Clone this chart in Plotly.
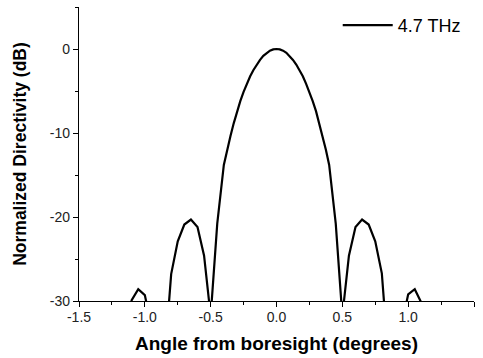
import plotly.graph_objects as go

# Angle from boresight (degrees)
angles = [-1.50, -1.45, -1.40, -1.35, -1.30, -1.25, -1.20, -1.15, -1.10, -1.05,
          -1.00, -0.95, -0.90, -0.85, -0.80, -0.75, -0.70, -0.65, -0.60, -0.55,
          -0.50, -0.45, -0.40, -0.375, -0.35, -0.325, -0.30, -0.275, -0.25, -0.225,
          -0.20, -0.175, -0.15, -0.125, -0.10, -0.075, -0.05, -0.025,
          0.00, 0.025, 0.05, 0.075, 0.10, 0.125, 0.15, 0.175, 0.20, 0.225,
          0.25, 0.275, 0.30, 0.325, 0.35, 0.375, 0.40, 0.45,
          0.50, 0.55, 0.60, 0.65, 0.70, 0.75, 0.80, 0.85, 0.90, 0.95,
          1.00, 1.05, 1.10, 1.15, 1.20, 1.25, 1.30, 1.35, 1.40, 1.45, 1.50]

# Normalized directivity (dB) at 4.7 THz
directivity = [-36.0, -35.0, -34.5, -35.0, -36.5, -38.0, -37.0, -34.0, -29.9, -28.6,
               -29.3, -33.0, -42.0, -37.0, -26.8, -22.9, -20.9, -20.3, -21.2, -24.6,
               -31.8, -20.8, -13.8, -12.0, -10.4, -8.85, -7.4, -6.2, -5.1, -4.15,
               -3.25, -2.5, -1.85, -1.3, -0.82, -0.45, -0.2, -0.05,
               0.0, -0.05, -0.2, -0.45, -0.82, -1.3, -1.85, -2.5, -3.25, -4.15,
               -5.1, -6.2, -7.4, -8.85, -10.4, -12.0, -13.8, -20.8,
               -31.8, -24.6, -21.2, -20.3, -20.9, -22.9, -26.7, -37.0, -42.0, -33.0,
               -29.2, -28.6, -30.2, -34.0, -37.0, -38.0, -36.5, -35.0, -34.5, -35.0, -36.0]

series_name = "4.7 THz"

x_tick_vals = [-1.5, -1.0, -0.5, 0.0, 0.5, 1.0, 1.5]
x_tick_text = ["-1.5", "-1.0", "-0.5", "0.0", "0.5", "1.0", "1.5"]
y_tick_vals = [-30, -20, -10, 0]
y_tick_text = ["-30", "-20", "-10", "0"]

fig = go.Figure()
fig.add_trace(go.Scatter(
    x=angles, y=directivity, mode="lines", name=series_name,
    line=dict(color="black", width=2.2),
    showlegend=True,
))

font_family = "Arial, Liberation Sans, sans-serif"

fig.update_layout(
    width=483, height=358,
    margin=dict(l=79, r=9, t=7, b=57),
    paper_bgcolor="white", plot_bgcolor="white",
    font=dict(family=font_family, color="black"),
    showlegend=True,
    legend=dict(
        x=0.655, y=1.0, xanchor="left", yanchor="top",
        bgcolor="rgba(0,0,0,0)", borderwidth=0,
        font=dict(size=18, family=font_family, color="black"),
        itemwidth=50,
    ),
    xaxis=dict(
        range=[-1.5, 1.5], tickvals=x_tick_vals, ticktext=x_tick_text,
        showgrid=False, zeroline=False, automargin=False,
        showline=True, linecolor="black", linewidth=1.2,
        ticks="outside", ticklen=5, tickwidth=1, tickcolor="black",
        ticklabelstandoff=-2,
        minor=dict(dtick=0.25, tick0=0, ticks="outside", ticklen=3, tickwidth=1, tickcolor="black", showgrid=False),
        tickfont=dict(size=14, color="#222"),
        title=dict(text="<b>Angle from boresight (degrees)</b>", font=dict(size=19), standoff=12),
    ),
    yaxis=dict(
        range=[-30, 5], tickvals=y_tick_vals, ticktext=y_tick_text,
        showgrid=False, zeroline=False, automargin=False,
        showline=True, linecolor="black", linewidth=1.2,
        ticks="outside", ticklen=5, tickwidth=1, tickcolor="black",
        minor=dict(dtick=5, tick0=0, ticks="outside", ticklen=3, tickwidth=1, tickcolor="black", showgrid=False),
        tickfont=dict(size=14, color="#222"),
        title=dict(text="<b>Normalized Directivity (dB)</b>", font=dict(size=17.5), standoff=18),
    ),
)

fig.write_html("out.html", config={"displayModeBar": False},
               post_script="document.body.style.margin='0';document.body.style.padding='0';")
